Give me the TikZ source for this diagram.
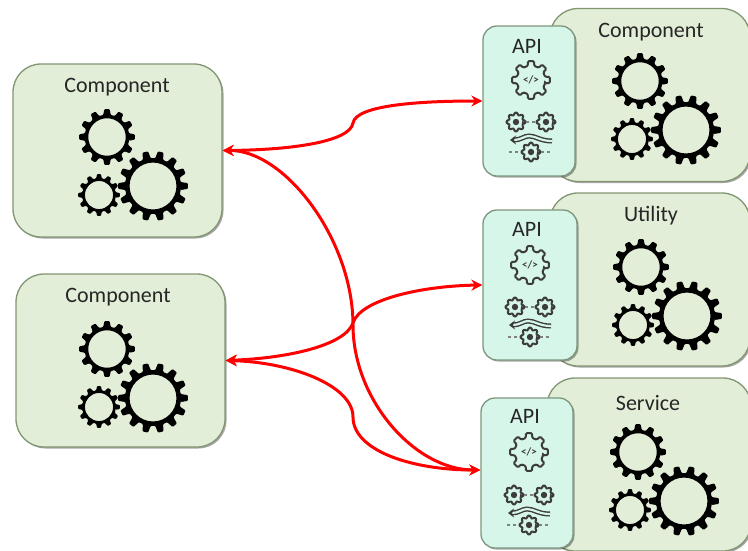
\documentclass[tikz,border=0pt]{standalone}
\usepackage{fontspec}
\setmainfont{Carlito}
\usetikzlibrary{arrows.meta,shadows}
\definecolor{boxgreen}{RGB}{226,238,215}
\definecolor{boxedge}{RGB}{130,150,115}
\definecolor{apigreen}{RGB}{215,246,234}
\definecolor{apiedge}{RGB}{125,150,125}
\definecolor{icongray}{RGB}{60,60,60}
\tikzset{
  softshadow/.style={drop shadow={shadow xshift=1.5pt,shadow yshift=-1.5pt,fill=black,opacity=0.35}},
  compbox/.style={draw=boxedge,fill=boxgreen,line width=1.3pt,rounded corners=28pt,softshadow},
  apibox/.style={draw=apiedge,fill=apigreen,line width=1.3pt,rounded corners=14pt,softshadow},
  title/.style={font=\fontsize{22}{24}\selectfont,text=black!85},
  redlink/.style={red,line width=3pt,{Stealth[length=11pt,width=11pt]}-{Stealth[length=11pt,width=11pt]}},
}

% one black cog: x, y, outer radius, teeth
\newcommand{\drawgear}[4]{
  \fill[black,even odd rule,rounded corners=0.9pt,shift={(#1,#2)}] ({.32*360/#4}:{.8*#3})
    \foreach \t [evaluate=\t as \a using \t*360/#4] in {1,...,#4} {
      -- ({\a-.32*360/#4}:{.8*#3}) -- ({\a-.18*360/#4}:#3) -- ({\a+.18*360/#4}:#3) -- ({\a+.32*360/#4}:{.8*#3})
    } -- cycle (0,0) circle ({.67*#3});
}
% the three cogs of a component, placed from the top cog
\newcommand{\gearset}[2]{
  \drawgear{#1}{#2}{28}{12}
  \drawgear{#1-8}{#2+58}{21}{12}
  \drawgear{#1+46}{#2+49}{35}{14}
}
% small outlined cog of the api icons
\newcommand{\drawcog}[4]{
  \draw[icongray,line width=#4,rounded corners=1pt,shift={(#1,#2)}] ({.3*45}:{.76*#3})
    \foreach \t [evaluate=\t as \a using \t*45] in {1,...,8} {
      -- ({\a-.3*45}:{.76*#3}) -- ({\a-.2*45}:#3) -- ({\a+.2*45}:#3) -- ({\a+.3*45}:{.76*#3})
    } -- cycle;
}
% code cog and network icon: x, y of the code cog, y of the network, name
\newcommand{\apiicons}[4]{
  \drawcog{#1}{#2}{19}{2pt}
  \node[icongray,inner sep=0pt,font=\bfseries\fontsize{11}{11}\selectfont] (code#4) at (#1,#2) {</>};
  % network
  \drawcog{#1-15}{#3-15}{9.5}{2pt}
  \drawcog{#1+15}{#3-15}{9.5}{2pt}
  \drawcog{#1}{#3+15}{9.5}{2pt}
  \fill[icongray] (#1-15,#3-15) circle (3.2) (#1+15,#3-15) circle (3.2) (#1,#3+15) circle (3.2);
  \draw[gray,line width=1.2pt,dashed] (#1-5,#3-15) -- (#1+5,#3-15);
  \draw[gray,line width=1.2pt,dashed] (#1-22,#3+15) -- (#1-10,#3+15);
  \draw[gray,line width=1.2pt,dashed] (#1+10,#3+15) -- (#1+22,#3+15);
  \draw[icongray,line width=1.4pt,double=apigreen,double distance=2.2pt,-{Stealth[length=6pt,width=9pt]}] (#1+21,#3+4) .. controls (#1+9,#3+4) and (#1+5,#3-1) .. (#1-2,#3-1) .. controls (#1-7,#3-1) and (#1-10,#3+3) .. (#1-21,#3+3);
}

\begin{document}
\begin{tikzpicture}[x=1pt,y=-1pt]
\useasboundingbox (0,0) rectangle (748,550);

% components on the left
\node[compbox,minimum width=209pt,minimum height=173pt] (compA) at (117.5,150.5) {};
\node[compbox,minimum width=209pt,minimum height=173pt] (compB) at (120.5,360.5) {};
\node[title] (titleA) at (117,87) {Component};
\node[title] (titleB) at (118,297) {Component};
\gearset{107}{137}
\gearset{107}{349}

% components on the right, each with its api in front
\node[compbox,minimum width=200pt,minimum height=173pt] (backA) at (650,95) {};
\node[compbox,minimum width=200pt,minimum height=173pt] (backB) at (650,279.5) {};
\node[compbox,minimum width=204pt,minimum height=173pt] (backC) at (649,464.5) {};
\node[title] (titleC) at (651,32) {Component};
\node[title] (titleD) at (651,216) {Utility};
\node[title] (titleE) at (648,403) {Service};
\gearset{640}{81}
\gearset{641}{267}
\gearset{638}{452}

\node[apibox,minimum width=92pt,minimum height=150pt] (apiA) at (529,101) {};
\node[apibox,minimum width=94pt,minimum height=150pt] (apiB) at (530,285) {};
\node[apibox,minimum width=92pt,minimum height=150pt] (apiC) at (527,473) {};
\node[title] (labelA) at (527,46) {API};
\node[title] (labelB) at (527,229) {API};
\node[title] (labelC) at (525,416) {API};
\apiicons{531}{80}{137}{A}
\apiicons{530}{265}{322}{B}
\apiicons{529}{452}{510}{C}

% red links, the two that cross meet halfway
\coordinate (apiCin) at ([yshift=3pt]apiC.west);
\draw[redlink] (compA.east) .. controls (290,150) and (350,142) .. (353,123) .. controls (356,105) and (420,101) .. (apiA.west);
\draw[redlink] (compA.east) .. controls (285,150) and (353,240) .. (353,325) .. controls (353,400) and (415,470) .. (apiCin);
\draw[redlink] (compB.east) .. controls (290,358) and (345,345) .. (353,323) .. controls (360,300) and (420,286) .. (apiB.west);
\draw[redlink] (compB.east) .. controls (290,362) and (353,385) .. (353,417) .. controls (353,450) and (410,470) .. (apiCin);
\end{tikzpicture}
\end{document}
